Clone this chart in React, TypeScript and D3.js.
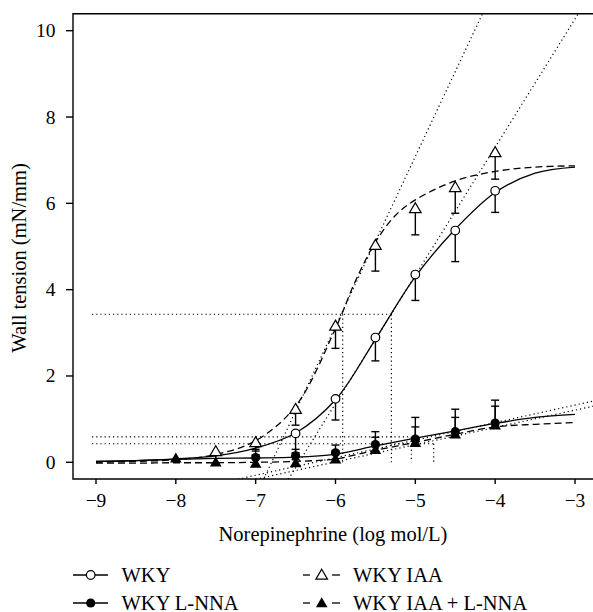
import React from 'react';
import * as d3 from 'd3';

// x = log mol/L, y = wall tension (mN/mm)
const xTicks = [-9, -8, -7, -6, -5, -4, -3];
const yTicks = [0, 2, 4, 6, 8, 10];

const wkyX = [-6.5, -6, -5.5, -5, -4.5, -4];
const wkyMean = [0.67, 1.47, 2.89, 4.35, 5.37, 6.29];
const wkyErr = [0.45, 0.49, 0.54, 0.6, 0.72, 0.5];

const iaaX = [-7.5, -7, -6.5, -6, -5.5, -5, -4.5, -4];
const iaaMean = [0.25, 0.46, 1.23, 3.16, 5.03, 5.88, 6.37, 7.18];
const iaaErr = [0.27, 0.2, 0.37, 0.52, 0.6, 0.61, 0.6, 0.62];

const lnnaX = [-7, -6.5, -6, -5.5, -5, -4.5, -4];
const lnnaMean = [0.11, 0.15, 0.22, 0.41, 0.54, 0.71, 0.91];
const lnnaErr = [0.19, 0.15, 0.18, 0.3, 0.5, 0.52, 0.53];

const iaaLnnaX = [-8, -7.5, -7, -6.5, -6, -5.5, -5, -4.5, -4];
const iaaLnnaMean = [0.09, 0.0, -0.03, -0.02, 0.07, 0.29, 0.45, 0.65, 0.86];
const iaaLnnaErr = [0, 0, 0.2, 0.08, 0.2, 0.29, 0.37, 0.39, 0.44];

// fitted curves (read at these doses)
const fitX = [-9, -8.5, -8, -7.5, -7, -6.5, -6, -5.5, -5, -4.5, -4, -3.5, -3];
const wkyFit = [0.02, 0.04, 0.08, 0.15, 0.33, 0.68, 1.45, 2.85, 4.3, 5.4, 6.25, 6.7, 6.84];
const lnnaFit = [0.02, 0.04, 0.07, 0.09, 0.1, 0.12, 0.19, 0.38, 0.56, 0.73, 0.9, 1.04, 1.11];
const iaaLnnaFit = [-0.02, -0.02, -0.01, -0.01, 0, 0.02, 0.08, 0.28, 0.46, 0.65, 0.82, 0.88, 0.92];
const iaaFitX = [-9, -8.5, -8, -7.5, -7, -6.5, -6, -5.75, -5.5, -5.25, -5, -4.5, -4, -3.5, -3];
const iaaFit = [0, 0.02, 0.06, 0.18, 0.5, 1.3, 3.1, 4.2, 5.1, 5.72, 6.08, 6.52, 6.74, 6.84, 6.87];

// dotted construction lines: half-max levels, EC50 drops, tangents
const halfMax = [3.43, 0.59, 0.43];
const halfMaxEnd = [-5.3, -5.05, -4.77];
const ec50 = [-5.91, -5.3, -5.05, -4.77];
const ec50Top = [3.43, 3.43, 0.59, 0.43];
const tangents = [
  [-6.9, -0.39, -4.16, 10.39],
  [-6.59, -0.39, -2.96, 10.39],
  [-7.22, -0.39, -2.77, 1.42],
  [-7.0, -0.39, -2.77, 1.3],
];

const W = 593, H = 612;
const left = 73, top = 13.7, bottom = 479, right = 593;
const font = 'Times New Roman, Tinos, Liberation Serif, DejaVu Serif';

const x = d3.scaleLinear().domain([-9, -3]).range([96, 575]);
const y = d3.scaleLinear().domain([0, 10]).range([462.3, 30.7]);

const minus = (v: number) => (v < 0 ? '\u2212' + Math.abs(v) : String(v));

function fitPath(xs: number[], ys: number[], curve: any) {
  return d3.line<number>()
    .x((d, i) => x(xs[i]))
    .y(d => y(d))
    .curve(curve)(ys) as string;
}

const triPath = 'M0,-5.8L5.8,4.2L-5.8,4.2Z';

function Marker({ kind, cx, cy }: { kind: string; cx: number; cy: number }) {
  if (kind === 'openCircle')
    return <circle cx={cx} cy={cy} r={4.3} fill="white" stroke="black" strokeWidth={1.2} />;
  if (kind === 'filledCircle')
    return <circle cx={cx} cy={cy} r={4.6} fill="black" />;
  if (kind === 'openTri')
    return <path d={triPath} transform={`translate(${cx},${cy})`} fill="white" stroke="black" strokeWidth={1.2} />;
  return <path d={triPath} transform={`translate(${cx},${cy})`} fill="black" />;
}

function Points({ xs, mean, err, kind, dir }: { xs: number[]; mean: number[]; err: number[]; kind: string; dir: number }) {
  return (
    <g>
      {xs.map((v, i) => {
        const cx = x(v);
        const end = y(mean[i] + dir * err[i]);
        return (
          <g key={i}>
            {err[i] > 0 && (
              <g stroke="black" strokeWidth={1.4}>
                <line x1={cx} x2={cx} y1={y(mean[i])} y2={end} />
                <line x1={cx - 4} x2={cx + 4} y1={end} y2={end} />
              </g>
            )}
            <Marker kind={kind} cx={cx} cy={y(mean[i])} />
          </g>
        );
      })}
    </g>
  );
}

function DashKey({ cy, kind }: { cy: number; kind: string }) {
  return (
    <g>
      <line x1={303} x2={310} y1={cy} y2={cy} stroke="black" strokeWidth={1.3} />
      <Marker kind={kind} cx={321.7} cy={cy} />
      <line x1={332} x2={340} y1={cy} y2={cy} stroke="black" strokeWidth={1.3} />
    </g>
  );
}

export default function App() {
  const dot = { stroke: 'black', strokeWidth: 1.2, strokeDasharray: '1.2,3', fill: 'none' };
  return (
    <svg width={W} height={H} style={{ position: 'absolute', left: 0, top: 0, background: 'white' }}>
      <defs>
        <clipPath id="plot">
          <rect x={left} y={top} width={right - left} height={bottom - top} />
        </clipPath>
      </defs>

      {/* dotted construction lines */}
      <g clipPath="url(#plot)">
        {halfMax.map((h, i) => (
          <line key={'h' + i} x1={x(-9.05)} x2={x(halfMaxEnd[i])} y1={y(h)} y2={y(h)} {...dot} />
        ))}
        {ec50.map((e, i) => (
          <line key={'v' + i} x1={x(e)} x2={x(e)} y1={y(ec50Top[i])} y2={y(0)} {...dot} />
        ))}
        {tangents.map((t, i) => (
          <line key={'t' + i} x1={x(t[0])} y1={y(t[1])} x2={x(t[2])} y2={y(t[3])} {...dot} />
        ))}
      </g>

      {/* fitted curves */}
      <g fill="none" stroke="black" strokeWidth={1.3}>
        <path d={fitPath(fitX, wkyFit, d3.curveCatmullRom)} />
        <path d={fitPath(iaaFitX, iaaFit, d3.curveCatmullRom)} strokeDasharray="7,4" />
        <path d={fitPath(fitX, lnnaFit, d3.curveMonotoneX)} />
        <path d={fitPath(fitX, iaaLnnaFit, d3.curveMonotoneX)} strokeDasharray="7,4" />
      </g>

      <Points xs={iaaLnnaX} mean={iaaLnnaMean} err={iaaLnnaErr} kind="filledTri" dir={1} />
      <Points xs={lnnaX} mean={lnnaMean} err={lnnaErr} kind="filledCircle" dir={1} />
      <Points xs={wkyX} mean={wkyMean} err={wkyErr} kind="openCircle" dir={-1} />
      <Points xs={iaaX} mean={iaaMean} err={iaaErr} kind="openTri" dir={-1} />

      {/* frame */}
      <g stroke="black" strokeWidth={1.4} fill="none">
        <path d={`M${right},${top}H${left}V${bottom}H${right}`} />
        {yTicks.map(t => <line key={t} x1={left - 7} x2={left} y1={y(t)} y2={y(t)} />)}
        {xTicks.map(t => <line key={t} x1={x(t)} x2={x(t)} y1={bottom} y2={bottom + 5} />)}
      </g>
      <g fontFamily={font} fill="black">
        <g fontSize={19.5}>
          {yTicks.map(t => (
            <text key={t} x={55.5} y={y(t) + 6.5} textAnchor="end">{minus(t)}</text>
          ))}
          {xTicks.map(t => (
            <text key={t} x={x(t)} y={506.5} textAnchor="middle">{minus(t)}</text>
          ))}
        </g>
        <text x={333} y={541} textAnchor="middle" fontSize={20.5}>Norepinephrine (log mol/L)</text>
        <text transform="translate(26,258) rotate(-90)" textAnchor="middle" fontSize={20.5}>Wall tension (mN/mm)</text>

        {/* legend */}
        <g fontSize={20.5}>
          <line x1={73} x2={108} y1={575} y2={575} stroke="black" strokeWidth={1.3} />
          <Marker kind="openCircle" cx={90.7} cy={575} />
          <text x={121.5} y={581.5}>WKY</text>
          <line x1={73} x2={108} y1={603} y2={603} stroke="black" strokeWidth={1.3} />
          <Marker kind="filledCircle" cx={90.7} cy={603} />
          <text x={121.5} y={609.5}>WKY L-NNA</text>

          <DashKey cy={575} kind="openTri" />
          <text x={353} y={581.5}>WKY IAA</text>
          <DashKey cy={603} kind="filledTri" />
          <text x={353} y={609.5}>WKY IAA + L-NNA</text>
        </g>
      </g>
    </svg>
  );
}
